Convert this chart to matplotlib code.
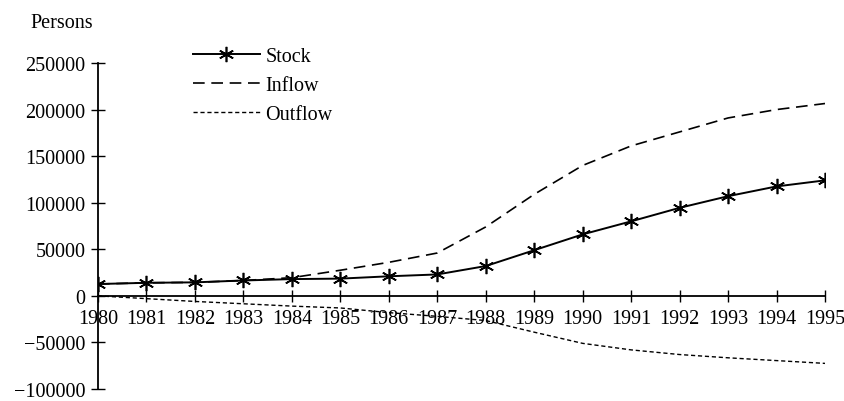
import matplotlib
matplotlib.use("Agg")
import matplotlib.pyplot as plt

years = list(range(1980, 1996))
stock = [12700, 14000, 14500, 16500, 18000, 18500, 21000, 23000, 32000, 49000,
         66000, 80000, 94500, 107000, 117500, 124000]
inflow = [12700, 14000, 14500, 16500, 19500, 27500, 36000, 46000, 74000, 109000,
          140000, 161000, 176000, 191000, 200000, 206500]
outflow = [0, -3000, -6000, -8500, -11000, -13000, -18000, -22000, -26500, -39000,
           -51000, -58000, -63000, -66500, -69500, -72500]
yticks = [-100000, -50000, 0, 50000, 100000, 150000, 200000, 250000]

plt.rcParams['font.family'] = ['Liberation Serif', 'DejaVu Serif']
fs = 14.5

fig = plt.figure(figsize=(8.44, 4.02), dpi=100)
W, H = 844, 402
ax = fig.add_axes([98 / W, (H - 390) / H, (825 - 98) / W, (390 - 64) / H])

ax.plot(years, stock, color='black', lw=1.4, marker=(6, 2, 0), ms=11, mew=1.2, label='Stock')
ax.plot(years, inflow, color='black', lw=1.2, dashes=(7, 4), label='Inflow')
ax.plot(years, outflow, color='black', lw=1.0, dashes=(3, 2), label='Outflow')

ax.set_xlim(1980, 1995)
ax.set_ylim(-100000, 250000)
ax.spines['top'].set_visible(False)
ax.spines['right'].set_visible(False)
ax.spines['bottom'].set_position(('data', 0))
ax.spines['bottom'].set_linewidth(1.3)
ax.spines['left'].set_linewidth(1.3)

ax.set_xticks(years)
ax.set_xticklabels([str(y) for y in years], fontsize=fs)
ax.set_yticks(yticks)
ax.set_yticklabels([str(v).replace('-', '\u2212') for v in yticks], fontsize=fs)
ax.tick_params(axis='x', direction='inout', length=9, width=1.0, pad=5)
ax.tick_params(axis='y', direction='inout', length=10, width=1.0, pad=4)

fig.text(30 / W, 1 - 24 / H, 'Persons', fontsize=fs, va='center', ha='left')

leg = ax.legend(loc='upper left', bbox_to_anchor=(183 / W, 1 - 38 / H),
                bbox_transform=fig.transFigure, frameon=False, fontsize=fs,
                handlelength=3.3, handletextpad=0.3, labelspacing=0.5, borderpad=0)

fig.savefig('out.png', dpi=100)
